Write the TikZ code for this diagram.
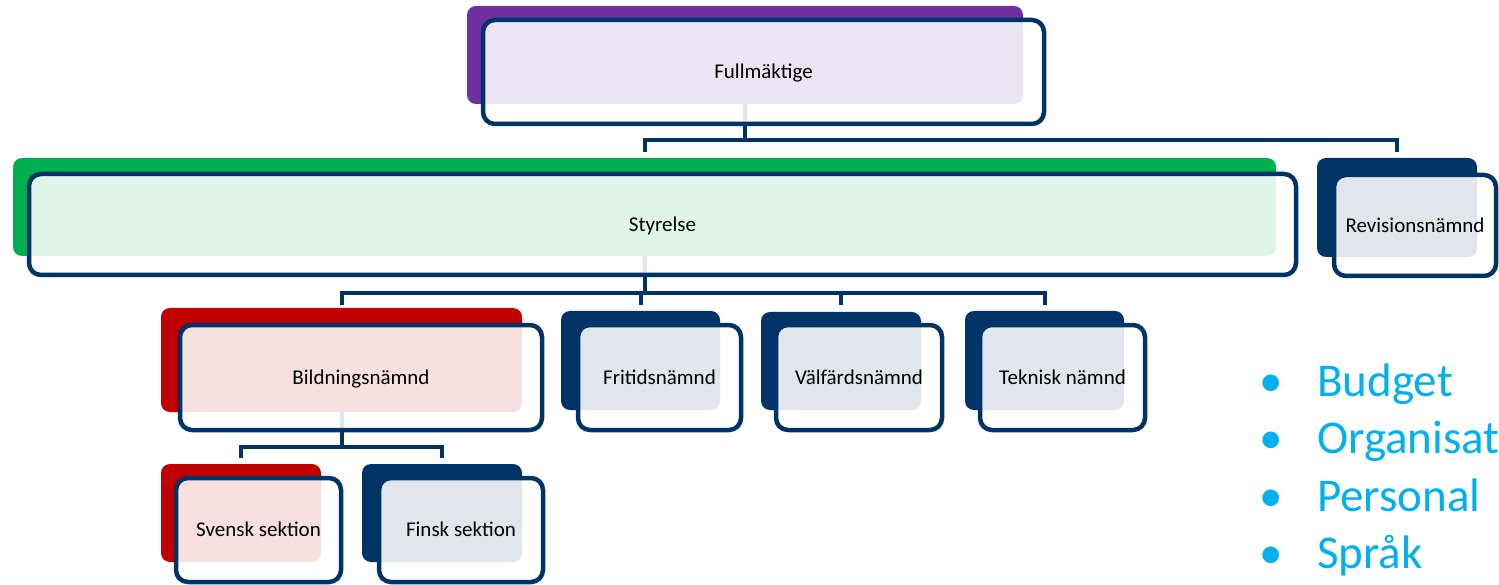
\documentclass[tikz,border=0pt]{standalone}
\usepackage{fontspec}
\setmainfont{Carlito}
\usetikzlibrary{calc}

\definecolor{navy}{HTML}{003366}
\definecolor{orgpurple}{HTML}{7030A0}
\definecolor{orggreen}{HTML}{00B050}
\definecolor{orgred}{HTML}{C00000}
\definecolor{listcyan}{HTML}{00B0F0}

\pgfdeclarelayer{wires}
\pgfsetlayers{wires,main}

\tikzset{
  backbox/.style={rectangle, rounded corners=9pt, inner sep=0pt, draw=none},
  frontbox/.style={rectangle, rounded corners=12pt, draw=navy, line width=4.5pt,
    fill=white, fill opacity=0.88, text opacity=1, inner sep=0pt,
    text height=13.6pt, text depth=0pt, text=black,
    font=\fontsize{21}{25}\selectfont},
  wire/.style={draw=navy, line width=4pt},
  dot/.style={anchor=base west, inner sep=0pt, text=listcyan,
    font=\fontsize{47}{56}\selectfont},
  item/.style={anchor=base west, inner sep=0pt, text=listcyan,
    font=\fontsize{47}{56}\selectfont},
}

\begin{document}
\begin{tikzpicture}[x=1pt, y=-1pt]
\useasboundingbox (0,0) rectangle (1499,585);
\clip (0,0) rectangle (1499,585);

% coloured backing plates
\node[backbox, fill=orgpurple, minimum width=556pt, minimum height=98pt] (fullB) at (745,55) {};
\node[backbox, fill=orggreen, minimum width=1263pt, minimum height=98pt] (styB) at (644.5,207) {};
\node[backbox, fill=navy, minimum width=160pt, minimum height=99pt] (revB) at (1397,207.5) {};
\node[backbox, fill=orgred, minimum width=361pt, minimum height=104pt] (bildB) at (341.5,360) {};
\node[backbox, fill=navy, minimum width=159pt, minimum height=99pt] (fritB) at (640.5,360.5) {};
\node[backbox, fill=navy, minimum width=160pt, minimum height=98pt] (valfB) at (841,361) {};
\node[backbox, fill=navy, minimum width=159pt, minimum height=99pt] (teknB) at (1044.5,360.5) {};
\node[backbox, fill=orgred, minimum width=160pt, minimum height=98pt] (svenB) at (241,513) {};
\node[backbox, fill=navy, minimum width=160pt, minimum height=98pt] (finsB) at (442,513) {};

% outlined label boxes
\node[frontbox, minimum width=561pt, minimum height=104pt] (full) at (763.5,72) {Fullmäktige};
\node[frontbox, minimum width=1267pt, minimum height=101pt] (sty) at (662.5,224.5) {Styrelse};
\node[frontbox, minimum width=162pt, minimum height=101pt] (rev) at (1415,225.5) {Revisionsnämnd};
\node[frontbox, minimum width=362pt, minimum height=105pt] (bild) at (361,377.5) {Bildningsnämnd};
\node[frontbox, minimum width=163pt, minimum height=105pt] (frit) at (659.5,377.5) {Fritidsnämnd};
\node[frontbox, minimum width=166pt, minimum height=105pt] (valf) at (859,377.5) {Välfärdsnämnd};
\node[frontbox, minimum width=165pt, minimum height=105pt] (tekn) at (1062.5,377.5) {Teknisk nämnd};
\node[frontbox, minimum width=165pt, minimum height=104pt] (sven) at (258.5,530) {Svensk sektion};
\node[frontbox, minimum width=164pt, minimum height=104pt] (fins) at (461,530) {Finsk sektion};

% hierarchy connectors, kept underneath the boxes
\coordinate (bus1) at (745,140);
\coordinate (bus2) at (644.5,293);
\coordinate (bus3) at (341.5,447);
\begin{pgfonlayer}{wires}
  \draw[wire] (fullB.center) -- (bus1);
  \draw[wire] ($(bus1 -| styB.north)+(0,12)$) |- (bus1) -| ($(bus1 -| revB.north)+(0,12)$);
  \draw[wire] (styB.center) -- (bus2);
  \draw[wire] ($(bus2 -| bildB.north)+(0,12)$) |- (bus2) -| ($(bus2 -| teknB.north)+(0,12)$);
  \draw[wire] (bus2 -| fritB.north) -- ($(bus2 -| fritB.north)+(0,12)$);
  \draw[wire] (bus2 -| valfB.north) -- ($(bus2 -| valfB.north)+(0,12)$);
  \draw[wire] (bildB.center) -- (bus3);
  \draw[wire] ($(bus3 -| svenB.north)+(0,11)$) |- (bus3) -| ($(bus3 -| finsB.north)+(0,11)$);
\end{pgfonlayer}

% bullet list
\node[dot] (d1) at (1259,396) {•};
\node[item] (i1) at (1317,396) {Budget};
\node[dot] (d2) at (1259,453.5) {•};
\node[item] (i2) at (1317,453.5) {Organisat};
\node[dot] (d3) at (1259,511) {•};
\node[item] (i3) at (1317,511) {Personal};
\node[dot] (d4) at (1259,568) {•};
\node[item] (i4) at (1317,568) {Språk};
\end{tikzpicture}
\end{document}
